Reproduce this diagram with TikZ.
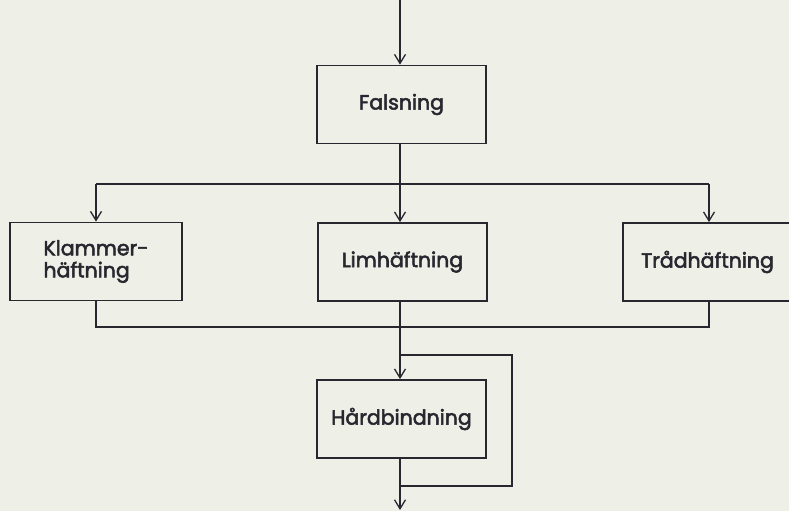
\documentclass[tikz,border=0pt]{standalone}
\usepackage{fontspec}
\setmainfont{Poppins}
\newfontfamily\boxfont{Poppins}[FakeBold=2.6]
\usetikzlibrary{arrows.meta}
\definecolor{paper}{RGB}{238,239,231}
\definecolor{ink}{RGB}{40,38,46}
\begin{document}
\begin{tikzpicture}[x=1pt,y=-1pt,
  stepbox/.style={draw=ink,line width=1.8pt,minimum width=169pt,minimum height=78pt,
    inner sep=0pt,font=\boxfont\fontsize{20.5}{22}\selectfont,text=ink,align=left},
  flow/.style={draw=ink,line width=1.6pt},
  arr/.style={flow,-{Straight Barb[length=9pt,width=11pt,line width=1.3pt]}}]
  % page
  \fill[paper] (0,0) rectangle (789,511);
  \useasboundingbox (0,0) rectangle (789,511);

  % process steps
  \node[stepbox] (fals)  at (401.5,104.5) {Falsning};
  \node[stepbox,minimum width=172pt] (klam)  at (96,261.5) {Klammer-\\häftning};
  \node[stepbox] (lim)   at (402.5,262) {Limhäftning};
  \node[stepbox] (trad)  at (707.5,262) {Trådhäftning};
  \node[stepbox] (hard)  at (401.5,419) {Hårdbindning};

  % junction points
  \coordinate (in)    at (400,0);
  \coordinate (split) at (400,184);
  \coordinate (sl)    at (96,184);
  \coordinate (sr)    at (709,184);
  \coordinate (join)  at (400,327);
  \coordinate (jl)    at (96,327);
  \coordinate (jr)    at (709,327);
  \coordinate (bya)   at (400,355);
  \coordinate (byb)   at (400,486);
  \coordinate (byr)   at (512,355);
  \coordinate (out)   at (400,510);

  % incoming and split
  \draw[arr] (in) -- (in |- fals.north);
  \draw[flow] (fals.south -| split) -- (split);
  \draw[flow] (sl) -- (sr);
  \draw[arr] (sl) -- (sl |- klam.north);
  \draw[arr] (split) -- (split |- lim.north);
  \draw[arr] (sr) -- (sr |- trad.north);

  % merge
  \draw[flow] (klam.south -| jl) -- (jl) -- (jr) -- (trad.south -| jr);
  \draw[flow] (lim.south -| join) -- (join);
  \draw[arr] (join) -- (join |- hard.north);

  % bypass around the last step
  \draw[flow] (bya) -- (byr) -- (byr |- byb) -- (byb);

  % outgoing
  \draw[arr] (hard.south -| out) -- (out);
\end{tikzpicture}
\end{document}
